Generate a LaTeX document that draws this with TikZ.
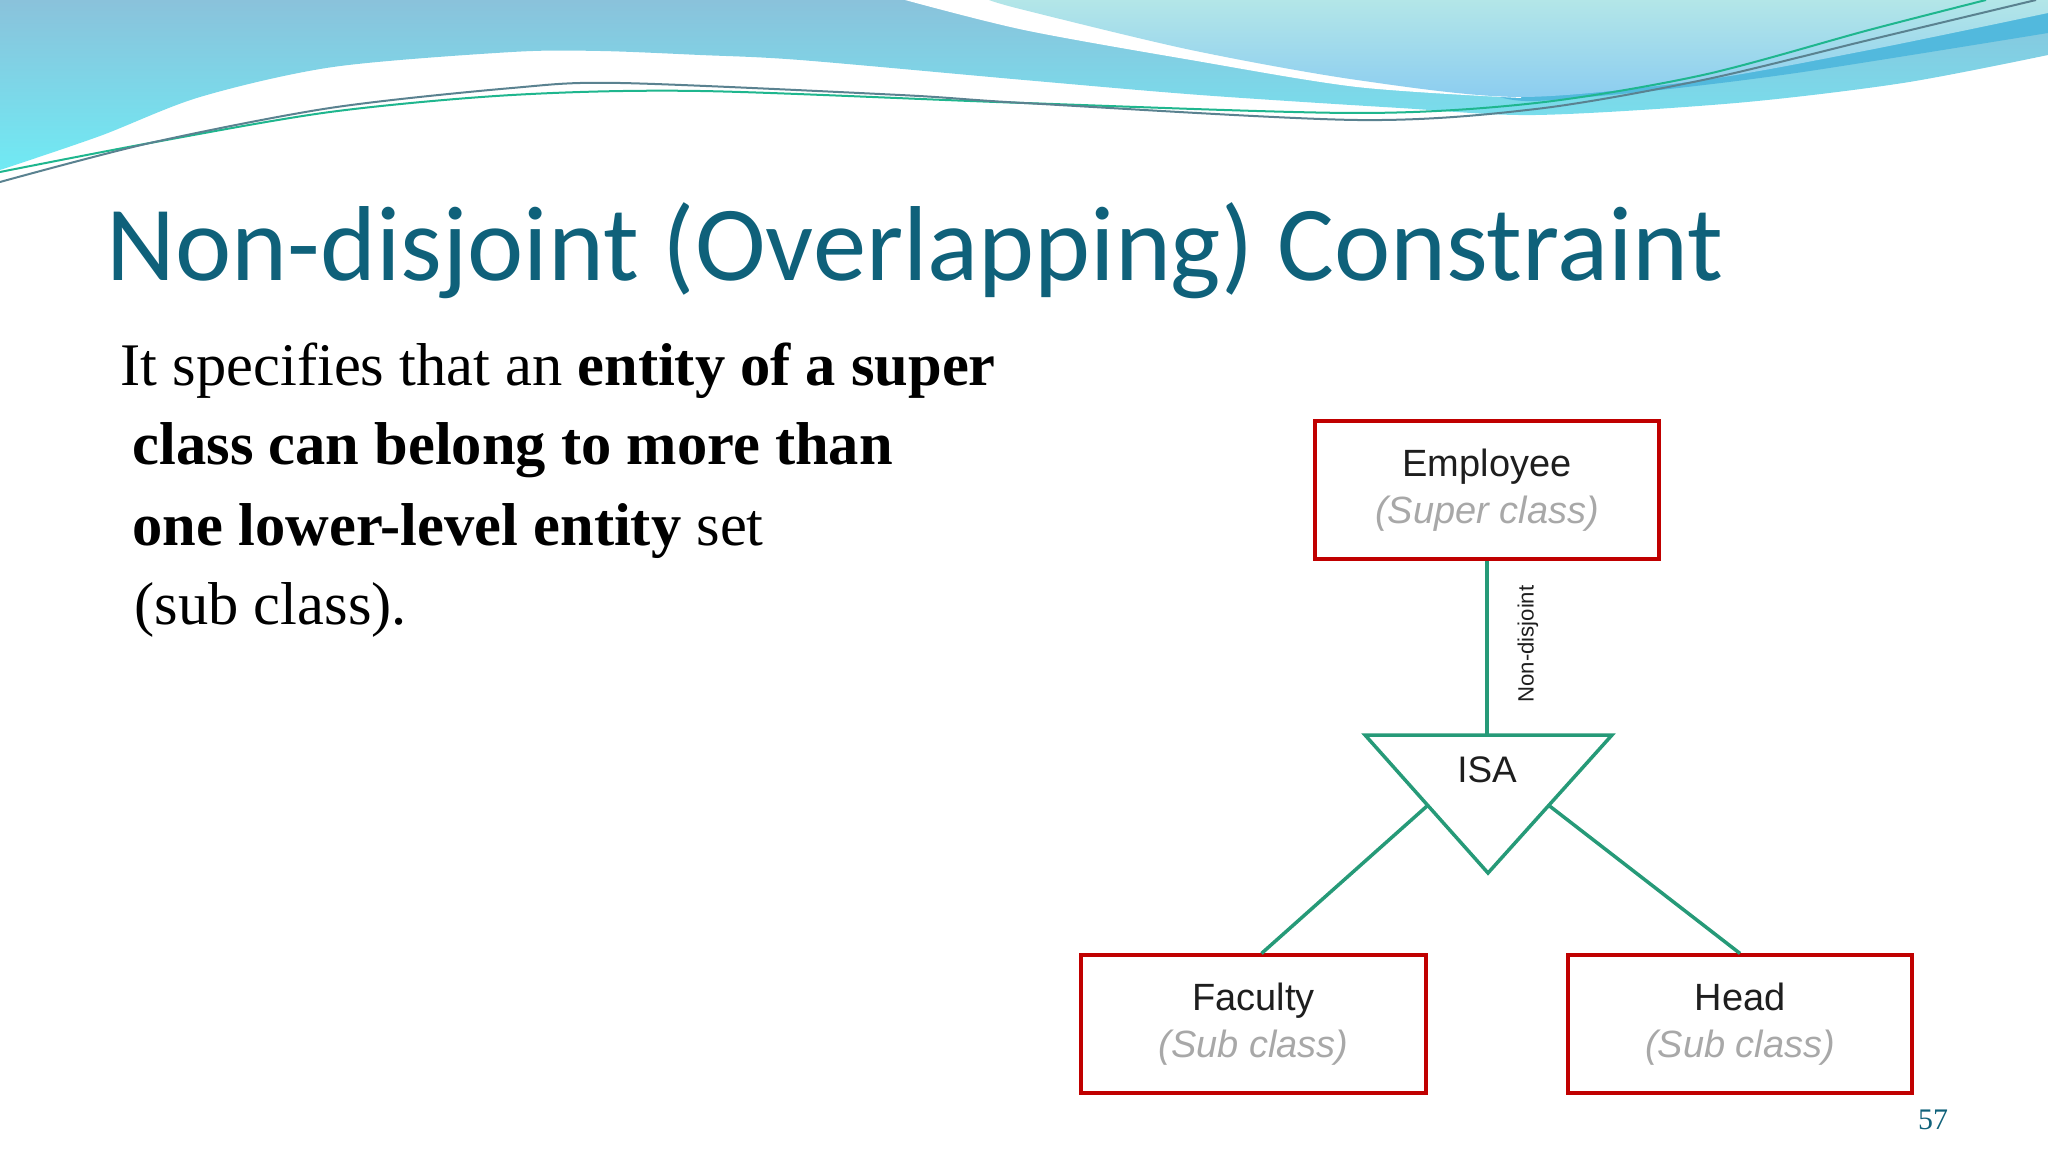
\documentclass[tikz,border=0pt]{standalone}
\usepackage{fontspec}
\newfontfamily\titlefont{Carlito}
\newfontfamily\bodyfont{Liberation Serif}
\newfontfamily\erfont{Liberation Sans}
\usetikzlibrary{calc}
\definecolor{titleteal}{HTML}{0F617A}
\definecolor{boxred}{HTML}{C00000}
\definecolor{linkgreen}{HTML}{269A78}
\definecolor{subgray}{HTML}{A8A8A8}
\definecolor{ertext}{HTML}{1E1E1E}
\definecolor{bannertop}{HTML}{8AC2DB}
\definecolor{bannerbot}{HTML}{70EAF4}
\definecolor{lighttop}{HTML}{B3E6E8}
\definecolor{lightbot}{HTML}{8CCDF0}
\definecolor{darkband}{HTML}{52B9DD}
\definecolor{wiregreen}{HTML}{1FB68E}
\definecolor{wiregray}{HTML}{5A8290}
\newcommand{\subtag}[1]{{\color{subgray}\itshape #1}}
\tikzset{
	entity/.style={draw=boxred, line width=0.04cm, minimum width=3.44cm, minimum height=1.37cm,
		align=center, inner sep=0pt, text=ertext, font=\erfont\fontsize{10.8}{13.2}\selectfont},
	link/.style={draw=linkgreen, line width=0.035cm},
	bodyline/.style={anchor=base west, inner sep=0pt, font=\bodyfont\fontsize{17.2}{20}\selectfont}
}

\begin{document}
\begin{tikzpicture}[x=0.01cm, y=-0.01cm]
		\useasboundingbox (0, 0) rectangle (2048, 1152);
		% banner
		\shade[top color=bannertop, bottom color=bannerbot] (0, 0) -- plot[smooth] coordinates {(0, 170) (100, 136) (200, 97) (333, 67) (512, 52) (600, 51) (700, 55) (800, 60) (1024, 80) (1200, 95) (1400, 108) (1536, 115) (1736, 103) (1903, 83) (2048, 55)} -- (2048, 0) -- cycle;
		\fill[darkband] (1500, 0) -- plot[smooth] coordinates {(1500, 97) (1536, 101) (1660, 90) (1803, 72) (2048, 33)} -- (2048, 0) -- cycle;
		\fill[white] (905, 0) -- plot[smooth] coordinates {(905, 0) (1024, 30) (1191, 60) (1357, 87) (1521, 98)} -- (1521, 0) -- cycle;
		\shade[top color=lighttop, bottom color=lightbot] (989, 0) -- plot[smooth] coordinates {(989, 0) (1024, 10) (1191, 50) (1357, 80) (1521, 97) (1703, 80) (1869, 50) (2048, 13)} -- (2048, 0) -- cycle;
		\draw[wiregreen, line width=0.02cm] plot[smooth] coordinates {(0, 172) (150, 143) (330, 112) (512, 95) (700, 91) (1024, 103) (1357, 113) (1536, 103) (1703, 75) (1869, 30) (1986, 0)};
		\draw[wiregray, line width=0.02cm] plot[smooth] coordinates {(0, 182) (150, 143) (330, 108) (512, 88) (620, 83) (900, 95) (1024, 103) (1357, 120) (1536, 109) (1703, 80) (1869, 40) (2036, 0)};
		%%%%%%%
		\node(title)[anchor=base west, inner sep=0pt, text=titleteal, font=\titlefont\fontsize{30.3}{36}\selectfont] at (106, 281) {Non-disjoint (Overlapping) Constraint};
		\node(line1)[bodyline] at (120, 386) {It specifies that an \textbf{entity of a super}};
		\node(line2)[bodyline] at (132, 465) {\textbf{class can belong to more than}};
		\node(line3)[bodyline] at (132, 545) {\textbf{one lower-level entity} set};
		\node(line4)[bodyline] at (134, 624) {(sub class).};
		%%%%%%%
		\node(emp)[entity] at (1487, 490) {Employee\\\subtag{(Super class)}};
		\node(fac)[entity] at (1253.5, 1024) {Faculty\\\subtag{(Sub class)}};
		\node(head)[entity] at (1740, 1024) {Head\\\subtag{(Sub class)}};
		%%%%%%%
		\coordinate(isaL) at (1365, 735);
		\coordinate(isaR) at (1612, 735);
		\coordinate(isaB) at (1488, 873);
		\draw[link, line join=miter] (isaL) -- (isaR) -- (isaB) -- cycle;
		\node(isa)[text=ertext, font=\erfont\fontsize{10.5}{12}\selectfont] at (1487, 770) {ISA};
		\coordinate(isaFL) at ($(isaL)!0.51!(isaB)$);
		\coordinate(isaFR) at ($(isaR)!0.51!(isaB)$);
		%%%%%%%
		\draw[link] (emp.south) -- (emp.south |- isaL);
		\node(ndlabel)[rotate=90, text=ertext, font=\erfont\fontsize{6.3}{7}\selectfont] at (1528, 644) {Non-disjoint};
		\draw[link] (isaFL) -- ([xshift=0.08cm]fac.north);
		\draw[link] (isaFR) -- (head.north);
		%%%%%%%
		\node(pagenum)[text=titleteal, font=\bodyfont\fontsize{8.5}{10}\selectfont] at (1933, 1120) {57};
\end{tikzpicture}
\end{document}
